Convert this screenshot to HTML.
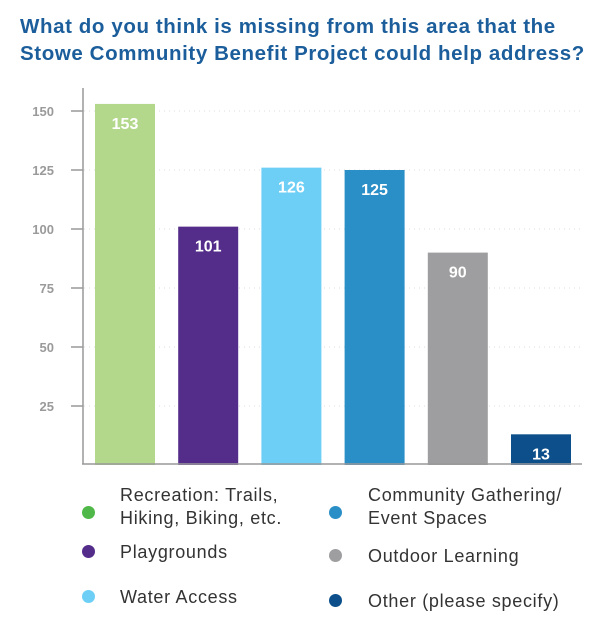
<!DOCTYPE html>
<html><head><meta charset="utf-8"><style>
body{margin:0;background:#fff;width:613px;height:625px;overflow:hidden;font-family:"Liberation Sans",sans-serif}
#title{position:absolute;left:20px;top:13px;width:600px;color:#1b5e9b;font-size:20.5px;font-weight:bold;line-height:27px;letter-spacing:0.6px;white-space:nowrap}
.leg{position:absolute;font-size:18px;color:#333;line-height:23px;letter-spacing:0.7px;white-space:nowrap}
.dot{position:absolute;width:13px;height:13px;border-radius:50%}
</style></head><body>
<div id="title">What do you think is missing from this area that the<br>Stowe Community Benefit Project could help address?</div>
<svg id="chart" width="613" height="625" style="position:absolute;left:0;top:0"></svg>
<div id="legend"></div>
<script>
const categories=["Recreation: Trails, Hiking, Biking, etc.","Playgrounds","Water Access","Community Gathering/ Event Spaces","Outdoor Learning","Other (please specify)"];
const values=[153,101,126,125,90,13];
const colors=["#b3d88c","#542c8a","#6dcff6","#2a8fc7","#9e9ea0","#0d4f8b"];
const dotColors=["#4fb848","#542c8a","#6dcff6","#2a8fc7","#9e9ea0","#0d4f8b"];
const ticks=[25,50,75,100,125,150];
const svg=document.getElementById('chart');const NS="http://www.w3.org/2000/svg";
const y=v=>465-v*2.36;
const x=i=>95+i*83.2;
function mk(t,a){const e=document.createElementNS(NS,t);for(const k in a)e.setAttribute(k,a[k]);svg.appendChild(e);return e;}
ticks.forEach(t=>{
 const g=mk('line',{x1:84,x2:580,y1:y(t),y2:y(t),stroke:'#ddd','stroke-dasharray':'1 4'});
 
 
 const tk=mk('line',{x1:71,x2:83,y1:y(t),y2:y(t),stroke:'#999','stroke-width':1.5});
 
 
 const l=mk('text',{x:54,y:y(t)+5,'text-anchor':'end','font-size':13,'font-weight':'bold',fill:'#9a9a9a','font-family':'Liberation Sans, sans-serif'});
 l.textContent=t;
 
 
});
values.forEach((v,i)=>{
 const b=mk('rect',{x:x(i),y:y(v),width:60,height:465-y(v),fill:colors[i]});
 
 
 const t=mk('text',{x:x(i)+30,y:y(v)+25,'text-anchor':'middle','font-size':16,'font-weight':'bold',fill:'#fff','font-family':'Liberation Sans, sans-serif'});
 t.textContent=v;
 
 
});
const ax=mk('line',{x1:83,x2:83,y1:88,y2:464,stroke:'#999','stroke-width':1.5});


const bx=mk('line',{x1:82,x2:582,y1:464,y2:464,stroke:'#999','stroke-width':1.5});


const lg=document.getElementById('legend');
const lpos=[[88,120,512,484],[88,120,551,541],[88,120,596,586],[335,368,512,484],[335,368,555,545],[335,368,600,590]];
const ltext=["Recreation: Trails,<br>Hiking, Biking, etc.","Playgrounds","Water Access","Community Gathering/<br>Event Spaces","Outdoor Learning","Other (please specify)"];
ltext.forEach((s,i)=>{
 const p=lpos[i];
 const d=document.createElement('div');d.className='dot';
 d.style.left=(p[0]-6)+'px';d.style.top=(p[2]-6)+'px';d.style.background=dotColors[i];
 
 
 lg.appendChild(d);
 const t=document.createElement('div');t.className='leg';
 t.style.left=p[1]+'px';t.style.top=p[3]+'px';t.innerHTML=s;
 
 
 lg.appendChild(t);
});
</script>
</body></html>
